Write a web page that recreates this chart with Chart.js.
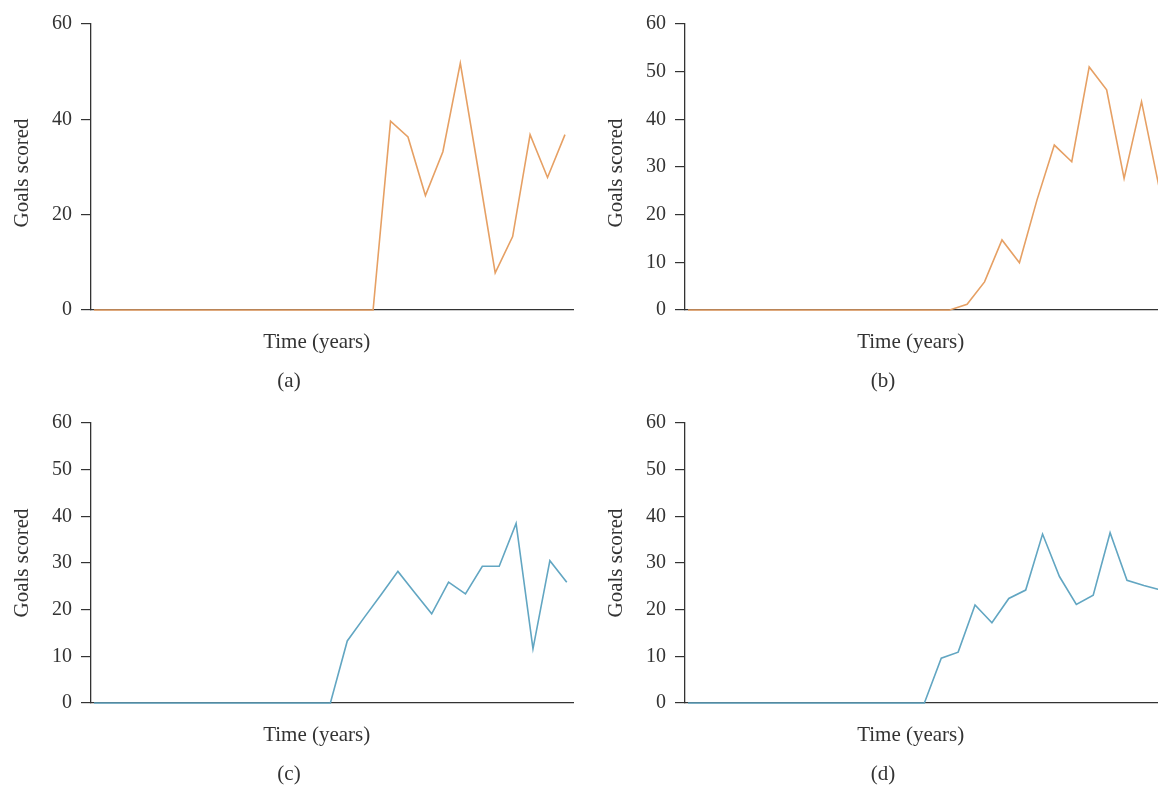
<!DOCTYPE html>
<html>
<head>
<meta charset="utf-8">
<script src="https://cdn.jsdelivr.net/npm/chart.js@4/dist/chart.umd.min.js"></script>
<style>
  html, body { margin: 0; padding: 0; background: #fff; overflow: hidden; width: 1158px; height: 787px; }
  .panel { position: absolute; }
</style>
</head>
<body>
<div class="panel" style="left:0;top:0"><canvas id="ca" width="580" height="400"></canvas></div>
<div class="panel" style="left:594px;top:0"><canvas id="cb" width="580" height="400"></canvas></div>
<div class="panel" style="left:0;top:400px"><canvas id="cc" width="580" height="387"></canvas></div>
<div class="panel" style="left:594px;top:400px"><canvas id="cd" width="580" height="387"></canvas></div>
<script>
// ---- data ----
const yearsAB = [1,2,3,4,5,6,7,8,9,10,11,12,13,14,15,16,17,18,19,20,21,22,23,24,25,26,27,28];
const yearsCD = [1,2,3,4,5,6,7,8,9,10,11,12,13,14,15,16,17,18,19,20,21,22,23,24,25,26,27,28,29];

const goalsA = [0,0,0,0,0,0,0,0,0,0,0,0,0,0,0,0,0, 39.6,36.3,24,33.2,51.8,30,7.8,15.4,36.8,27.8,36.8];
const goalsB = [0,0,0,0,0,0,0,0,0,0,0,0,0,0,0,0, 1.2,5.9,14.7,9.9,23,34.6,31.1,51,46.2,27.6,43.7,25.9];
const goalsC = [0,0,0,0,0,0,0,0,0,0,0,0,0,0,0, 13.3,18.3,23.2,28.2,23.6,19.1,25.9,23.4,29.3,29.3,38.5,11.6,30.5,25.9];
const goalsD = [0,0,0,0,0,0,0,0,0,0,0,0,0,0,0, 9.6,10.9,21,17.2,22.4,24.2,36.2,27.1,21.1,23.1,36.5,26.3,25.2,24.2];

const yTicksA = [0,20,40,60];
const yTicksBCD = [0,10,20,30,40,50,60];

const captions = ['(a)','(b)','(c)','(d)'];
const xTitle = 'Time (years)';
const yTitle = 'Goals scored';

// ---- styles ----
const ORANGE = '#E6A064';
const BLUE = '#62A6C2';
const AXIS = '#333333';
const TEXT = '#333333';
const FONT = '"Liberation Serif", "Times New Roman", serif';

const panelText = {
  id: 'panelText',
  afterDraw(chart, args, opts) {
    const {ctx, chartArea} = chart;
    ctx.save();
    ctx.fillStyle = TEXT;
    ctx.font = '21px ' + FONT;
    ctx.textAlign = 'center';
    ctx.textBaseline = 'middle';
    ctx.fillText(opts.xTitle, chartArea.left + 225.7, chartArea.bottom + 32.5);
    ctx.fillText(opts.caption, chartArea.left + 198, chartArea.bottom + 71);
    ctx.translate(22, (chartArea.top + chartArea.bottom) / 2 + opts.yDy);
    ctx.rotate(-Math.PI / 2);
    ctx.fillText(opts.yTitle, 0, 0);
    ctx.restore();
  }
};

function makeChart(id, years, values, color, yTicks, caption, pad, xmin, xmax, yDy) {
  new Chart(document.getElementById(id), {
    type: 'line',
    data: {
      datasets: [{
        data: values.map((v, i) => ({x: years[i], y: v})),
        borderColor: color,
        borderWidth: 1.6,
        pointRadius: 0,
        tension: 0,
        fill: false,
        clip: false
      }]
    },
    options: {
      responsive: false,
      animation: false,
      events: [],
      layout: { padding: pad },
      plugins: {
        legend: { display: false },
        tooltip: { enabled: false },
        title: { display: false },
        panelText: { xTitle: xTitle, caption: caption, yTitle: yTitle, yDy: yDy }
      },
      scales: {
        x: {
          type: 'linear',
          min: xmin,
          max: xmax,
          grid: { display: false, drawTicks: false },
          border: { display: true, color: AXIS, width: 1.3 },
          ticks: { display: false }
        },
        y: {
          type: 'linear',
          min: 0,
          max: 60,
          afterBuildTicks: (scale) => { scale.ticks = yTicks.map(v => ({value: v})); },
          afterFit: (scale) => { scale.width = 91; },
          grid: { display: true, drawOnChartArea: false, drawTicks: true, tickLength: 10, color: AXIS, lineWidth: 1.2 },
          border: { display: true, color: AXIS, width: 1.3 },
          ticks: { color: TEXT, padding: 9, font: { family: FONT, size: 20 } }
        }
      }
    },
    plugins: [panelText]
  });
}

const padTop = { top: 24, right: 7, bottom: 90, left: 0 };
const padBottom = { top: 23, right: 7, bottom: 84, left: 0 };

makeChart('ca', yearsAB, goalsA, ORANGE, yTicksA, captions[0], padTop, 0.828, 28.46, 6);
makeChart('cb', yearsAB, goalsB, ORANGE, yTicksBCD, captions[1], padTop, 0.828, 28.46, 6);
makeChart('cc', yearsCD, goalsC, BLUE, yTicksBCD, captions[2], padBottom, 0.822, 29.37, 0);
makeChart('cd', yearsCD, goalsD, BLUE, yTicksBCD, captions[3], padBottom, 0.822, 29.37, 0);
</script>
</body>
</html>
